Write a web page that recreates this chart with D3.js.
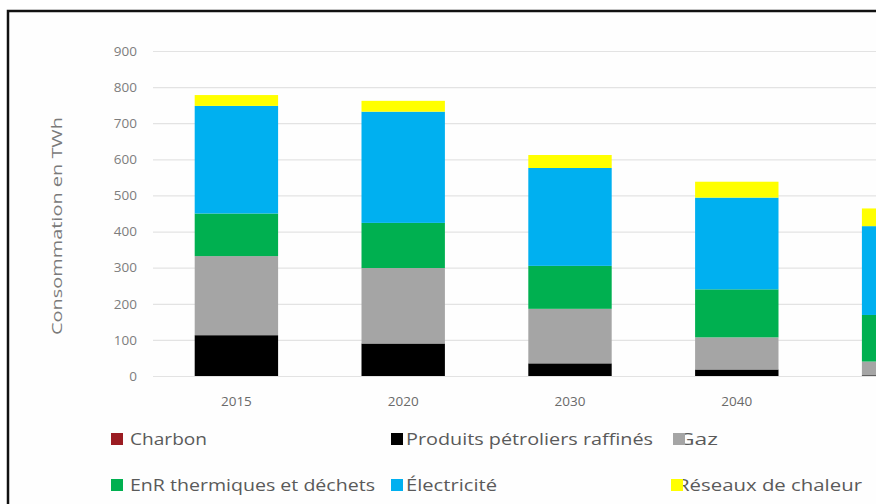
<!DOCTYPE html>
<html>
<head>
<meta charset="utf-8">
<script src="https://cdn.jsdelivr.net/npm/d3@7"></script>
<style>
  html, body { margin: 0; padding: 0; background: #ffffff; }
  svg { display: block; }
  text { font-family: "Open Sans", "Liberation Sans", sans-serif; }
</style>
</head>
<body>
<svg id="chart" width="876" height="504"></svg>
<script>
// Consommation finale d'énergie par vecteur (TWh)
const years = ["2015", "2020", "2030", "2040", "2050"];
const charbon = [0, 0, 0, 0, 0];
const produitsPetroliers = [113, 90, 35, 18, 2];
const gaz = [219, 209, 151, 89, 38];
const enrThermiques = [118, 125, 119, 133, 129];
const electricite = [298, 308, 271, 254, 246];
const reseauxChaleur = [30, 30, 36, 44, 49];
const yTicks = [0, 100, 200, 300, 400, 500, 600, 700, 800, 900];

const seriesNames = ["Charbon", "Produits pétroliers raffinés", "Gaz",
  "EnR thermiques et déchets", "Électricité", "Réseaux de chaleur"];
const seriesValues = [charbon, produitsPetroliers, gaz, enrThermiques, electricite, reseauxChaleur];
const seriesColors = ["#9b1c22", "#000000", "#a5a5a5", "#00b050", "#00b0f0", "#ffff00"];

const rows = years.map((yr, i) => {
  const r = { year: yr };
  seriesNames.forEach((n, k) => { r[n] = seriesValues[k][i]; });
  return r;
});

const W = 876;
const svg = d3.select("#chart");

// frame
svg.append("rect").attr("x", 8).attr("y", 11).attr("width", 900).attr("height", 520)
  .attr("fill", "#fefefe").attr("stroke", "#111").attr("stroke-width", 2.5);

const x = d3.scaleBand().domain(years).range([153, 987]).paddingInner(0.5).paddingOuter(0.25);
const y = d3.scaleLinear().domain([0, 900]).range([376, 51]);

// gridlines + y tick labels
const yAxis = d3.axisLeft(y).tickValues(yTicks).tickSize(-(987 - 153)).tickPadding(16);
const gy = svg.append("g").attr("transform", "translate(153,0)").call(yAxis);
gy.select(".domain").remove();
gy.selectAll(".tick line").attr("stroke", "#e3e3e3").attr("stroke-width", 1.2);
gy.selectAll(".tick text").attr("fill", "#7d7d7d").attr("font-size", 13.5)
  .attr("font-family", "'Open Sans', sans-serif");

// x labels (only categories whose label fits inside the page width)
const xAxis = d3.axisBottom(x).tickSize(0).tickPadding(20);
const gx = svg.append("g").attr("transform", "translate(0,376)").call(xAxis);
gx.select(".domain").remove();
gx.selectAll(".tick text").attr("fill", "#6a6a6a").attr("font-size", 13.5)
  .attr("font-family", "'Open Sans', sans-serif");
gx.selectAll(".tick").filter(d => x(d) + x.bandwidth() / 2 + 16 > W).remove();

// stacked bars
const stack = d3.stack().keys(seriesNames);
const layers = stack(rows);
svg.append("g").selectAll("g").data(layers).join("g")
  .attr("fill", (d, i) => seriesColors[i])
  .selectAll("rect").data(d => d).join("rect")
  .attr("x", d => x(d.data.year))
  .attr("width", x.bandwidth())
  .attr("y", d => y(d[1]))
  .attr("height", d => y(d[0]) - y(d[1]));

// y axis title
svg.append("text")
  .attr("transform", "translate(62,226) rotate(-90)")
  .attr("text-anchor", "middle")
  .attr("fill", "#7a7a7a").attr("font-size", 15)
  .attr("textLength", 218).attr("lengthAdjust", "spacingAndGlyphs")
  .text("Consommation en TWh");

// legend
const legendItems = [
  { k: 0, sx: 111, tx: 130, ty: 445, len: 77 },
  { k: 1, sx: 391, tx: 406, ty: 445, len: 247 },
  { k: 2, sx: 673, tx: 678, ty: 445, len: 40 },
  { k: 3, sx: 111, tx: 130, ty: 491, len: 245 },
  { k: 4, sx: 391, tx: 406, ty: 491, len: 91 },
  { k: 5, sx: 671, tx: 677, ty: 491, len: 185 }
];
const lg = svg.append("g");
legendItems.forEach(it => {
  lg.append("text").attr("x", it.tx).attr("y", it.ty)
    .attr("fill", "#5a5a5a").attr("font-size", 17)
    .attr("textLength", it.len).attr("lengthAdjust", "spacingAndGlyphs")
    .text(seriesNames[it.k]);
  lg.append("rect").attr("x", it.sx).attr("y", it.ty - 12).attr("width", 12).attr("height", 12)
    .attr("fill", seriesColors[it.k]);
});
</script>
</body>
</html>
